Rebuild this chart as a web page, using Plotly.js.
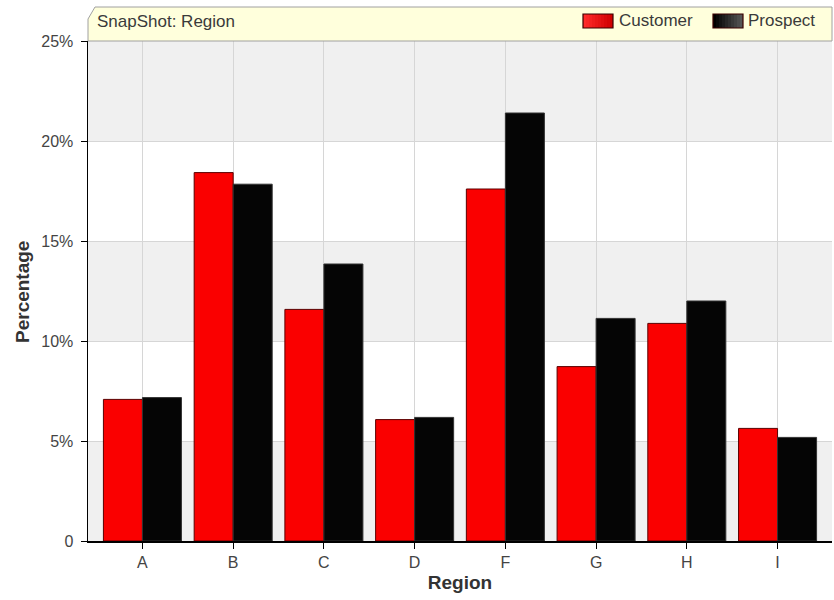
<!DOCTYPE html>
<html>
<head>
<meta charset="utf-8">
<script src="https://cdn.plot.ly/plotly-3.0.1.min.js"></script>
<style>
  html, body { margin: 0; padding: 0; background: #ffffff; }
  #chart { width: 834px; height: 600px; }
</style>
</head>
<body>
<div id="chart"></div>
<script>
// Regions on the x axis
const regions = ['A', 'B', 'C', 'D', 'F', 'G', 'H', 'I'];
// Share of each group per region, in percent
const customerPct = [7.08, 18.42, 11.58, 6.07, 17.6, 8.72, 10.88, 5.63];
const prospectPct = [7.17, 17.84, 13.85, 6.18, 21.4, 11.13, 12.0, 5.18];
// Y axis ticks
const yTickVals = [0, 5, 10, 15, 20, 25];
const yTickText = ['0', '5%', '10%', '15%', '20%', '25%'];

const FONT = 'Liberation Sans, Arial, sans-serif';

const traces = [
  {
    type: 'bar', name: 'Customer', x: regions, y: customerPct,
    marker: { color: '#fa0000', line: { color: '#5a0000', width: 1 } },
    hoverinfo: 'x+y'
  },
  {
    type: 'bar', name: 'Prospect', x: regions, y: prospectPct,
    marker: { color: '#050505', line: { color: '#333333', width: 1 } },
    hoverinfo: 'x+y'
  }
];

// plot area in pixels, used to place the header strip in paper units
const W = 744, H = 500;
const px = v => v / W;          // horizontal pixels -> paper
const py = v => 1 + v / H;      // pixels above plot top -> paper

const shapes = [];
// alternating horizontal bands behind the bars
[[0, 5], [10, 15], [20, 25]].forEach(([a, b]) => {
  shapes.push({
    type: 'rect', layer: 'below', xref: 'paper', yref: 'y',
    x0: 0, x1: 1, y0: a, y1: b,
    fillcolor: '#f0f0f0', line: { width: 0 }
  });
});
// header strip with a clipped top-left corner
shapes.push({
  type: 'path', xref: 'paper', yref: 'paper', layer: 'above',
  path: `M 0 1 L 0 ${py(22)} L ${px(7)} ${py(34)} L 1 ${py(34)} L 1 1 Z`,
  fillcolor: '#ffffdc', line: { color: '#a0a0a0', width: 1 }
});
// legend swatches, shaded left to right
function swatch(x0px, c0, c1) {
  const n = 10, w = 30;
  const p0 = c0.match(/\w\w/g).map(h => parseInt(h, 16));
  const p1 = c1.match(/\w\w/g).map(h => parseInt(h, 16));
  for (let i = 0; i < n; i++) {
    const t = i / (n - 1);
    const c = p0.map((v, k) => Math.round(v + (p1[k] - v) * t));
    shapes.push({
      type: 'rect', xref: 'paper', yref: 'paper', layer: 'above',
      x0: px(x0px + i * w / n), x1: px(x0px + (i + 1) * w / n),
      y0: py(13), y1: py(27),
      fillcolor: `rgb(${c.join(',')})`, line: { width: 0 }
    });
  }
  shapes.push({
    type: 'rect', xref: 'paper', yref: 'paper', layer: 'above',
    x0: px(x0px), x1: px(x0px + w), y0: py(13), y1: py(27),
    fillcolor: 'rgba(0,0,0,0)', line: { color: '#3a0000', width: 1.2 }
  });
}
swatch(583 - 88, 'ff2a2a', 'd00000');
swatch(713 - 88, '000000', '555555');

const annotations = [
  {
    xref: 'paper', yref: 'paper', x: px(7), y: py(19), xanchor: 'left', yanchor: 'middle',
    text: 'SnapShot: Region', showarrow: false,
    font: { family: FONT, size: 17, color: '#3a3a3a' }
  },
  {
    xref: 'paper', yref: 'paper', x: px(617 - 88), y: py(20), xanchor: 'left', yanchor: 'middle',
    text: 'Customer', showarrow: false,
    font: { family: FONT, size: 17, color: '#3a3a3a' }
  },
  {
    xref: 'paper', yref: 'paper', x: px(746 - 88), y: py(20), xanchor: 'left', yanchor: 'middle',
    text: 'Prospect', showarrow: false,
    font: { family: FONT, size: 17, color: '#3a3a3a' }
  },
  // y axis title
  {
    xref: 'paper', yref: 'paper', x: px(22 - 88), y: 1 - (292 - 41) / H,
    xanchor: 'center', yanchor: 'middle', textangle: -90,
    text: '<b>Percentage</b>', showarrow: false,
    font: { family: FONT, size: 19, color: '#333333' }
  }
];

const layout = {
  width: 834, height: 600,
  margin: { l: 88, r: 2, t: 41, b: 59, pad: 0 },
  paper_bgcolor: '#ffffff', plot_bgcolor: '#ffffff',
  font: { family: FONT, size: 16, color: '#444444' },
  showlegend: false,
  barmode: 'group', bargap: 0.14, bargroupgap: 0,
  xaxis: {
    type: 'category', range: [-0.6, 7.6],
    showgrid: true, gridcolor: '#d6d6d6', gridwidth: 1,
    showline: true, linecolor: '#000000', linewidth: 1.5,
    ticks: 'outside', ticklen: 6, tickcolor: '#000000',
    tickfont: { family: FONT, size: 16, color: '#444444' },
    title: { text: '<b>Region</b>', font: { family: FONT, size: 19, color: '#333333' }, standoff: 6 },
    fixedrange: true
  },
  yaxis: {
    range: [0, 25], tickvals: yTickVals, ticktext: yTickText,
    showgrid: true, gridcolor: '#d6d6d6', gridwidth: 1, zeroline: false,
    showline: true, linecolor: '#000000', linewidth: 1.5,
    ticks: 'outside', ticklen: 6, tickcolor: '#000000', ticklabelstandoff: 4,
    tickfont: { family: FONT, size: 16, color: '#444444' },
    fixedrange: true
  },
  shapes: shapes,
  annotations: annotations
};

Plotly.newPlot('chart', traces, layout, { displayModeBar: false, staticPlot: true });
</script>
</body>
</html>
